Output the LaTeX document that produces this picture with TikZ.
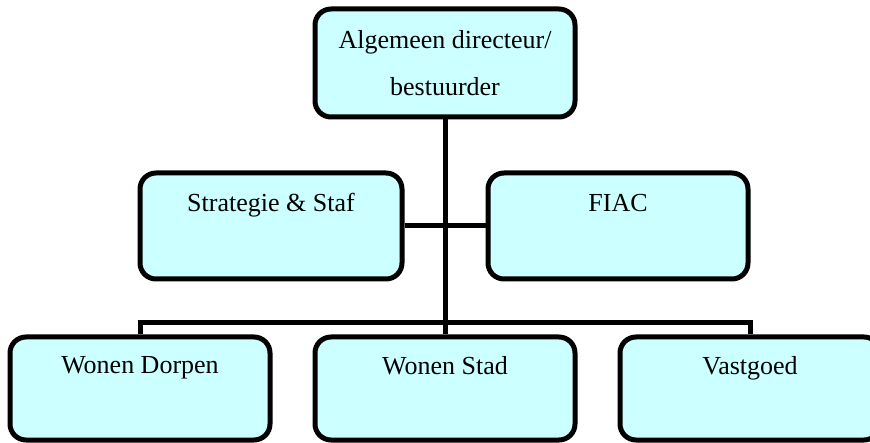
\documentclass[tikz,border=0pt]{standalone}
\usepackage{fontspec}
\setmainfont{Liberation Serif}
\definecolor{boxfill}{HTML}{CCFFFF}

\begin{document}
\begin{tikzpicture}[x=1pt, y=-1pt,
    unit/.style={draw, line width=5pt, rounded corners=16pt, fill=boxfill,
        align=center, font=\fontsize{26}{47}\selectfont,
        minimum width=260pt, inner sep=0pt},
    link/.style={line width=5pt}]

    \useasboundingbox (0,0) rectangle (870,443);

    % Directie
    \node[unit, minimum height=108pt] (dir) at (445,63) {Algemeen directeur/\\bestuurder};

    % Staf
    \node[unit, minimum width=262pt, minimum height=106pt] (staf) at (271,226) {Strategie \& Staf\\\mbox{}};
    \node[unit, minimum height=106pt] (fiac) at (618,226) {FIAC\\\mbox{}};

    % Afdelingen
    \node[unit, minimum height=103pt] (dorpen) at (140,388.5) {Wonen Dorpen\\\mbox{}};
    \node[unit, minimum height=103pt] (stad) at (445,388.5) {Wonen Stad\\\mbox{}};
    \node[unit, minimum height=103pt] (vastgoed) at (750,388.5) {Vastgoed\\\mbox{}};

    % Lijnen
    \coordinate (bar-l) at (140,323);
    \coordinate (bar-r) at (750,323);

    \draw[link] (dir) -- (stad);

    \draw[link] (staf) -- (fiac);

    \draw[link] (dorpen.north) -- (bar-l) -- (bar-r) -- (vastgoed.north);

\end{tikzpicture}
\end{document}
